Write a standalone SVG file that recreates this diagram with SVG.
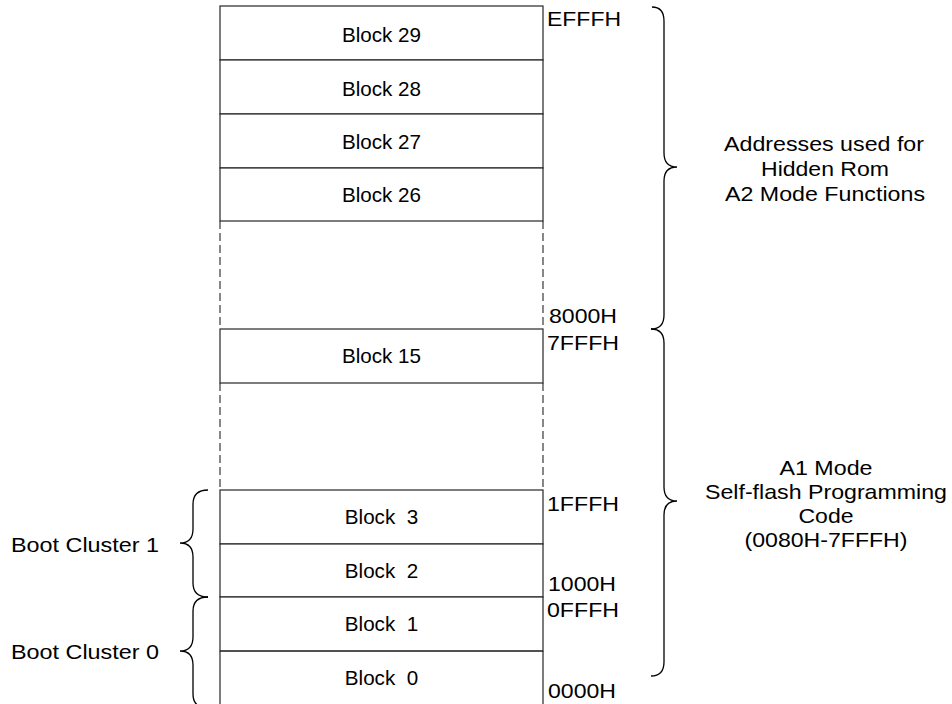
<svg xmlns="http://www.w3.org/2000/svg" width="952" height="704" viewBox="0 0 952 704">
  <style>
    .cell { fill: #ffffff; stroke: #262626; stroke-width: 1.2; }
    .edge { stroke: #262626; stroke-width: 1.2; fill: none; }
    .dash { stroke: #262626; stroke-width: 1.1; stroke-dasharray: 8 4; fill: none; }
    .brace { stroke: #000000; stroke-width: 1.3; fill: none; }
    .blk { font-family: "Liberation Sans", Arial, sans-serif; font-size: 20.6px; fill: #000; text-anchor: middle; }
    .lbl { font-family: "Liberation Sans", Arial, sans-serif; font-size: 21px; fill: #000; }
    .mid { text-anchor: middle; }
  </style>
  <rect width="952" height="704" fill="#ffffff"/>

  <!-- upper memory blocks -->
  <g id="block29"><rect class="cell" x="220" y="6" width="323" height="54"/><text class="blk" x="381.5" y="42">Block 29</text></g>
  <g id="block28"><rect class="cell" x="220" y="60" width="323" height="54"/><text class="blk" x="381.5" y="96">Block 28</text></g>
  <g id="block27"><rect class="cell" x="220" y="114" width="323" height="54"/><text class="blk" x="381.5" y="149">Block 27</text></g>
  <g id="block26"><rect class="cell" x="220" y="168" width="323" height="53"/><text class="blk" x="381.5" y="202">Block 26</text></g>

  <!-- omitted range between block 26 and block 15 -->
  <g id="gap-upper">
    <line class="dash" x1="220" y1="221" x2="220" y2="329"/>
    <line class="dash" x1="543" y1="221" x2="543" y2="329"/>
  </g>

  <g id="block15"><rect class="cell" x="220" y="329" width="323" height="54"/><text class="blk" x="381.5" y="363">Block 15</text></g>

  <!-- omitted range between block 15 and block 3 -->
  <g id="gap-lower">
    <line class="dash" x1="220" y1="383" x2="220" y2="490"/>
    <line class="dash" x1="543" y1="383" x2="543" y2="490"/>
  </g>

  <!-- boot cluster blocks -->
  <g id="block3"><rect class="cell" x="220" y="490" width="323" height="54"/><text class="blk" x="381.5" y="524" xml:space="preserve">Block  3</text></g>
  <g id="block2"><rect class="cell" x="220" y="544" width="323" height="53"/><text class="blk" x="381.5" y="578" xml:space="preserve">Block  2</text></g>
  <g id="block1"><rect class="cell" x="220" y="597" width="323" height="54"/><text class="blk" x="381.5" y="631" xml:space="preserve">Block  1</text></g>
  <g id="block0">
    <line class="edge" x1="220" y1="651" x2="543" y2="651"/>
    <line class="edge" x1="220" y1="651" x2="220" y2="704"/>
    <line class="edge" x1="543" y1="651" x2="543" y2="704"/>
    <text class="blk" x="381.5" y="685" xml:space="preserve">Block  0</text>
  </g>

  <!-- address boundaries -->
  <g id="addresses">
    <text class="lbl" x="547" y="26" textLength="74" lengthAdjust="spacingAndGlyphs">EFFFH</text>
    <text class="lbl" x="549" y="323" textLength="68" lengthAdjust="spacingAndGlyphs">8000H</text>
    <text class="lbl" x="547" y="350" textLength="72" lengthAdjust="spacingAndGlyphs">7FFFH</text>
    <text class="lbl" x="547" y="511" textLength="72" lengthAdjust="spacingAndGlyphs">1FFFH</text>
    <text class="lbl" x="548" y="591" textLength="68" lengthAdjust="spacingAndGlyphs">1000H</text>
    <text class="lbl" x="547" y="617" textLength="72" lengthAdjust="spacingAndGlyphs">0FFFH</text>
    <text class="lbl" x="548" y="698" textLength="68" lengthAdjust="spacingAndGlyphs">0000H</text>
  </g>

  <!-- range braces -->
  <g id="braces">
    <path class="brace" d="M652,7 Q664,7 664,21 L664,153 Q664,167 677,167 Q664,167 664,181 L664,315 Q664,329 651,329"/>
    <path class="brace" d="M651,329 Q664,329 664,343 L664,487 Q664,501 677,501 Q664,501 664,515 L664,662 Q664,676 651,676"/>
    <path class="brace" d="M208,490 Q193,490 193,504 L193,529 Q193,543 180,543 Q193,543 193,557 L193,583 Q193,597 208,597"/>
    <path class="brace" d="M208,597 Q193,597 193,611 L193,637 Q193,651 180,651 Q193,651 193,665 L193,694 Q193,708 208,708"/>
  </g>

  <!-- range descriptions -->
  <g id="hidden-rom-range">
    <text class="lbl mid" x="824" y="151" textLength="200" lengthAdjust="spacingAndGlyphs">Addresses used for</text>
    <text class="lbl mid" x="825" y="176" textLength="128" lengthAdjust="spacingAndGlyphs">Hidden Rom</text>
    <text class="lbl mid" x="825" y="201" textLength="200" lengthAdjust="spacingAndGlyphs">A2 Mode Functions</text>
  </g>
  <g id="self-flash-range">
    <text class="lbl mid" x="826" y="475" textLength="93" lengthAdjust="spacingAndGlyphs">A1 Mode</text>
    <text class="lbl mid" x="826" y="499" textLength="242" lengthAdjust="spacingAndGlyphs">Self-flash Programming</text>
    <text class="lbl mid" x="826" y="523" textLength="55" lengthAdjust="spacingAndGlyphs">Code</text>
    <text class="lbl mid" x="826" y="547" textLength="163" lengthAdjust="spacingAndGlyphs">(0080H-7FFFH)</text>
  </g>
  <g id="boot-clusters">
    <text class="lbl" x="11" y="552" textLength="148" lengthAdjust="spacingAndGlyphs">Boot Cluster 1</text>
    <text class="lbl" x="11" y="659" textLength="148" lengthAdjust="spacingAndGlyphs">Boot Cluster 0</text>
  </g>
</svg>
